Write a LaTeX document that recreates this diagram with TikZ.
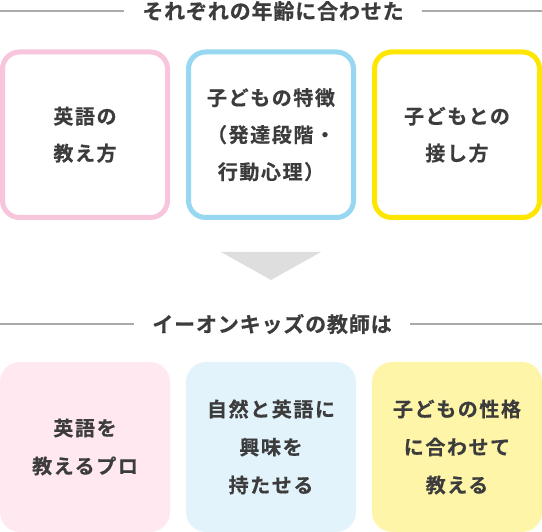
\documentclass[tikz,border=0pt]{standalone}
\usepackage{fontspec}
\setmainfont{Noto Sans CJK JP}[BoldFont={Noto Sans CJK JP Bold}]
\newfontfamily\titlefont{Noto Sans CJK JP}[BoldFont={Noto Sans CJK JP Bold},BoldFeatures={FakeBold=0.5},LetterSpace=4]
\newfontfamily\boxfontfam{Noto Sans CJK JP}[BoldFont={Noto Sans CJK JP Bold},BoldFeatures={FakeBold=0.5},LetterSpace=8]
\definecolor{txt}{HTML}{3C3C3C}
\definecolor{rulegray}{HTML}{AAAAAA}
\definecolor{pinkline}{HTML}{F8C6DC}
\definecolor{blueline}{HTML}{97D7F2}
\definecolor{yellowline}{HTML}{FFE600}
\definecolor{pinkfill}{HTML}{FFE8EF}
\definecolor{bluefill}{HTML}{E2F3FC}
\definecolor{yellowfill}{HTML}{FFF5A8}
\definecolor{trigray}{HTML}{DEDEDE}
\begin{document}
\begin{tikzpicture}[x=1pt,y=-1pt,
  title/.style={font=\titlefont\bfseries\fontsize{21}{24}\selectfont, text=txt, inner xsep=18pt, inner ysep=0pt},
  rule/.style={draw=rulegray, line width=1.5pt},
  topbox/.style={draw, line width=5pt, rounded corners=17pt, fill=white,
    minimum width=165pt, minimum height=165.5pt, inner sep=0pt, align=center,
    font=\boxfontfam\bfseries\fontsize{20}{37}\selectfont, text=txt},
  botbox/.style={rounded corners=20pt, minimum width=170pt, minimum height=170pt,
    inner sep=0pt, align=center,
    font=\boxfontfam\bfseries\fontsize{20}{38}\selectfont, text=txt},
  arrowtri/.style={fill=trigray}
]
\useasboundingbox (0,0) rectangle (542,532);

% title 1
\node[title] (t1) at (273,11) {それぞれの年齢に合わせた};
\coordinate (t1L) at (0,11);
\coordinate (t1R) at (542,11);
\draw[rule] (t1L) -- (t1.west);
\draw[rule] (t1.east) -- (t1R);

% top boxes
\node[topbox, draw=pinkline] (a1) at (85,134.75) {英語の\\教え方};
\node[topbox, draw=blueline] (a2) at (271,134.75) {子どもの特徴\\（発達段階・\\行動心理）};
\node[topbox, draw=yellowline] (a3) at (457,134.75) {子どもとの\\接し方};

% arrow triangle
\fill[arrowtri] (221,252) -- (321,252) -- (271,280) -- cycle;

% title 2
\node[title] (t2) at (272,324) {イーオンキッズの教師は};
\coordinate (t2L) at (0,324);
\coordinate (t2R) at (542,324);
\draw[rule] (t2L) -- (t2.west);
\draw[rule] (t2.east) -- (t2R);

% bottom boxes
\node[botbox, fill=pinkfill] (b1) at (85,447) {英語を\\教えるプロ};
\node[botbox, fill=bluefill] (b2) at (271,447) {自然と英語に\\興味を\\持たせる};
\node[botbox, fill=yellowfill] (b3) at (457,447) {子どもの性格\\に合わせて\\教える};
\end{tikzpicture}
\end{document}
